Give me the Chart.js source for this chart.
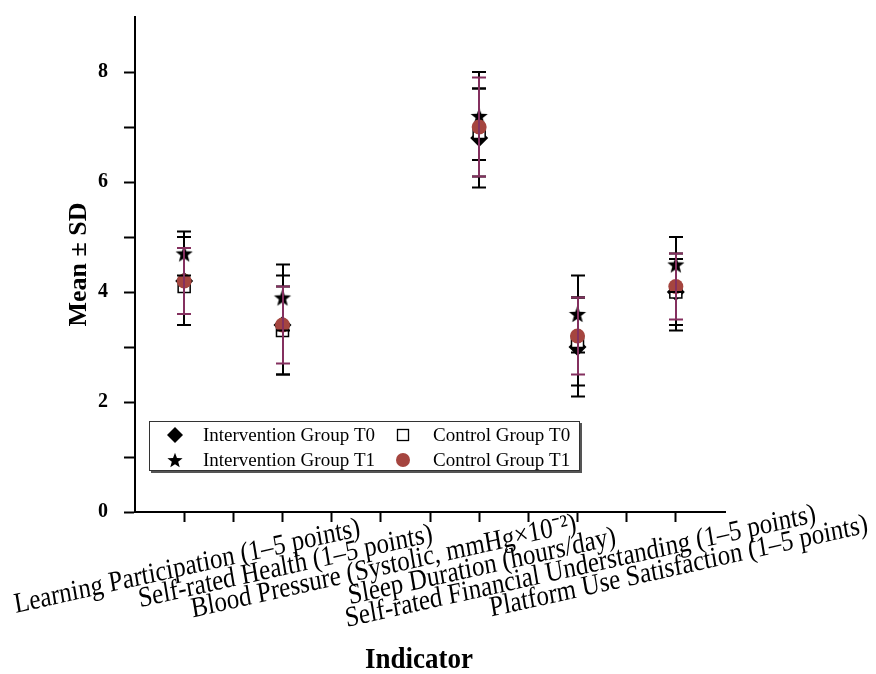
<!DOCTYPE html>
<html>
<head>
<meta charset="utf-8">
<script src="https://cdn.jsdelivr.net/npm/chart.js@4.4.0/dist/chart.umd.min.js"></script>
<style>
  html, body { margin: 0; padding: 0; background: #fff; }
  #wrap { width: 876px; height: 674px; }
</style>
</head>
<body>
<div id="wrap"><canvas id="chart" width="876" height="674"></canvas></div>
<script>
// data
const categories = [
  'Learning Participation (1–5 points)',
  'Self-rated Health (1–5 points)',
  'Blood Pressure (Systolic, mmHg×10⁻²)',
  'Sleep Duration (hours/day)',
  'Self-rated Financial Understanding (1–5 points)',
  'Platform Use Satisfaction (1–5 points)'
];
const seriesNames = ['Intervention Group T0', 'Intervention Group T1', 'Control Group T0', 'Control Group T1'];

const interventionT0 = [4.2, 3.4, 1.30, 6.8, 3.0, 4.0];
const interventionT0Sd = [0.8, 0.9, 0.15, 0.9, 0.9, 0.7];
const interventionT1 = [4.7, 3.9, 1.25, 7.2, 3.6, 4.5];
const interventionT1Sd = [0.4, 0.6, 0.14, 0.8, 0.7, 0.5];
const controlT0 = [4.1, 3.3, 1.31, 6.9, 3.1, 4.0];
const controlT0Sd = [0.7, 0.8, 0.16, 0.8, 0.8, 0.6];
const controlT1 = [4.2, 3.4, 1.28, 7.0, 3.2, 4.1];
const controlT1Sd = [0.6, 0.7, 0.15, 0.9, 0.7, 0.6];

const yTickValues = [0, 1, 2, 3, 4, 5, 6, 7, 8];
const yTickLabels = [0, 2, 4, 6, 8];
const xTickValues = [0, 0.5, 1, 1.5, 2, 2.5, 3, 3.5, 4, 4.5, 5];

// colours
const BLACK = '#000000';
const PLUM = '#84305F';
const BRICK = '#A5453F';
const SERIF = '"Liberation Serif", "Times New Roman", serif';

// filled star used as a point style
function makeStar(r, color) {
  const s = Math.ceil(r * 2) + 2;
  const c = document.createElement('canvas');
  c.width = s; c.height = s;
  const g = c.getContext('2d');
  starPath(g, s / 2, s / 2, r);
  g.fillStyle = color;
  g.fill();
  return c;
}
function starPath(g, cx, cy, r) {
  g.beginPath();
  for (let i = 0; i < 10; i++) {
    const rad = i % 2 === 0 ? r : r * 0.42;
    const a = -Math.PI / 2 + i * Math.PI / 5;
    const px = cx + rad * Math.cos(a), py = cy + rad * Math.sin(a) + r * 0.1;
    if (i === 0) g.moveTo(px, py); else g.lineTo(px, py);
  }
  g.closePath();
}

const toPoints = arr => arr.map((v, i) => ({ x: i, y: v }));

// error bars drawn from the named arrays through the scales
const errorSeries = [
  { means: interventionT0, sd: interventionT0Sd, color: BLACK },
  { means: interventionT1, sd: interventionT1Sd, color: BLACK },
  { means: controlT0, sd: controlT0Sd, color: BLACK },
  { means: controlT1, sd: controlT1Sd, color: PLUM }
];

const errorBarPlugin = {
  id: 'errorBars',
  afterDatasetsDraw(chart) {
    const { ctx, scales: { x, y } } = chart;
    errorSeries.forEach(s => {
      ctx.save();
      ctx.strokeStyle = s.color;
      ctx.lineWidth = 2;
      s.means.forEach((m, i) => {
        const px = Math.round(x.getPixelForValue(i));
        const top = y.getPixelForValue(m + s.sd[i]);
        const bot = y.getPixelForValue(m - s.sd[i]);
        ctx.beginPath();
        ctx.moveTo(px, top); ctx.lineTo(px, bot);
        ctx.moveTo(px - 7, top); ctx.lineTo(px + 7, top);
        ctx.moveTo(px - 7, bot); ctx.lineTo(px + 7, bot);
        ctx.stroke();
      });
      ctx.restore();
    });
  }
};

// rotated category labels, centred on their ticks, plus the x title
const xLabelPlugin = {
  id: 'xLabels',
  afterDraw(chart) {
    const { ctx, scales: { x } } = chart;
    ctx.save();
    ctx.fillStyle = BLACK;
    ctx.font = '25px ' + SERIF;
    ctx.textAlign = 'center';
    ctx.textBaseline = 'middle';
    categories.forEach((lab, i) => {
      ctx.save();
      ctx.translate(x.getPixelForValue(i) + 3, 567);
      ctx.scale(1, 1.15);
      ctx.rotate(-11 * Math.PI / 180);
      ctx.fillText(lab, 0, 0);
      ctx.restore();
    });
    ctx.font = 'bold 27px ' + SERIF;
    ctx.translate(419, 660);
    ctx.scale(1, 1.12);
    ctx.fillText('Indicator', 0, 0);
    ctx.restore();
  }
};

function drawMarker(ctx, kind, cx, cy) {
  ctx.save();
  if (kind === 'diamond') {
    ctx.beginPath();
    ctx.moveTo(cx, cy - 8); ctx.lineTo(cx + 8, cy); ctx.lineTo(cx, cy + 8); ctx.lineTo(cx - 8, cy);
    ctx.closePath();
    ctx.fillStyle = BLACK; ctx.fill();
  } else if (kind === 'star') {
    starPath(ctx, cx, cy, 8);
    ctx.fillStyle = BLACK; ctx.fill();
  } else if (kind === 'square') {
    ctx.fillStyle = '#fff';
    ctx.strokeStyle = BLACK; ctx.lineWidth = 1.3;
    ctx.fillRect(cx - 5.5, cy - 5.5, 11, 11);
    ctx.strokeRect(cx - 5.5, cy - 5.5, 11, 11);
  } else {
    ctx.beginPath();
    ctx.arc(cx, cy, 7, 0, Math.PI * 2);
    ctx.fillStyle = BRICK; ctx.fill();
  }
  ctx.restore();
}

// boxed legend inside the plot, drawn over the marks
const legendPlugin = {
  id: 'boxLegend',
  afterDraw(chart) {
    const { ctx } = chart;
    const bx = 149, by = 421, bw = 431, bh = 50;
    ctx.save();
    ctx.fillStyle = '#555';
    ctx.fillRect(bx + 2, by + 2, bw, bh);
    ctx.fillStyle = '#fff';
    ctx.fillRect(bx, by, bw, bh);
    ctx.strokeStyle = '#333';
    ctx.lineWidth = 1;
    ctx.strokeRect(bx + 0.5, by + 0.5, bw - 1, bh - 1);

    const items = [
      { kind: 'diamond', name: seriesNames[0], mx: 175, tx: 203, y: 435 },
      { kind: 'square', name: seriesNames[2], mx: 403, tx: 433, y: 435 },
      { kind: 'star', name: seriesNames[1], mx: 175, tx: 203, y: 460 },
      { kind: 'circle', name: seriesNames[3], mx: 403, tx: 433, y: 460 }
    ];
    ctx.font = '19px ' + SERIF;
    ctx.textBaseline = 'middle';
    ctx.textAlign = 'left';
    items.forEach(it => {
      drawMarker(ctx, it.kind, it.mx, it.y);
      ctx.fillStyle = BLACK;
      ctx.fillText(it.name, it.tx, it.y + 1);
    });
    ctx.restore();
  }
};

const ctx = document.getElementById('chart').getContext('2d');
new Chart(ctx, {
  type: 'scatter',
  data: {
    datasets: [
      {
        label: seriesNames[0], data: toPoints(interventionT0), order: 4,
        pointStyle: 'rectRot', pointRadius: 9, backgroundColor: BLACK, borderColor: BLACK, borderWidth: 0
      },
      {
        label: seriesNames[1], data: toPoints(interventionT1), order: 3,
        pointStyle: makeStar(9, BLACK), pointRadius: 9
      },
      {
        label: seriesNames[2], data: toPoints(controlT0), order: 2,
        pointStyle: 'rect', pointRadius: 8.5, backgroundColor: '#fff', borderColor: BLACK, borderWidth: 1.5
      },
      {
        label: seriesNames[3], data: toPoints(controlT1), order: 1,
        pointStyle: 'circle', pointRadius: 7.5, backgroundColor: BRICK, borderColor: BRICK, borderWidth: 0
      }
    ]
  },
  options: {
    responsive: false,
    animation: false,
    layout: { padding: { top: 17, right: 151, left: 0, bottom: 0 } },
    plugins: { legend: { display: false }, tooltip: { enabled: false } },
    scales: {
      x: {
        type: 'linear', min: -0.5, max: 5.5,
        afterBuildTicks: scale => { scale.ticks = xTickValues.map(v => ({ value: v })); },
        ticks: { display: false },
        grid: { drawOnChartArea: false, tickLength: 10, tickWidth: 2, tickColor: BLACK },
        border: { color: BLACK, width: 2 },
        afterFit: scale => { scale.height = 162; scale.paddingLeft = 0; scale.paddingRight = 0; }
      },
      y: {
        type: 'linear', min: 0, max: 9,
        afterBuildTicks: scale => { scale.ticks = yTickValues.map(v => ({ value: v })); },
        ticks: {
          color: BLACK, padding: 16,
          font: { family: SERIF, size: 20, weight: 'bold' },
          callback: v => yTickLabels.includes(v) ? String(v) : ''
        },
        grid: { drawOnChartArea: false, tickLength: 11, tickWidth: 2, tickColor: BLACK },
        border: { color: BLACK, width: 2 },
        title: {
          display: true, text: 'Mean ± SD', color: BLACK,
          font: { family: SERIF, size: 26, weight: 'bold', lineHeight: 1 },
          padding: { top: 66, bottom: 0 }
        },
        afterFit: scale => { scale.width = 135; scale.paddingTop = 0; scale.paddingBottom = 0; }
      }
    }
  },
  plugins: [errorBarPlugin, legendPlugin, xLabelPlugin]
});
</script>
</body>
</html>
